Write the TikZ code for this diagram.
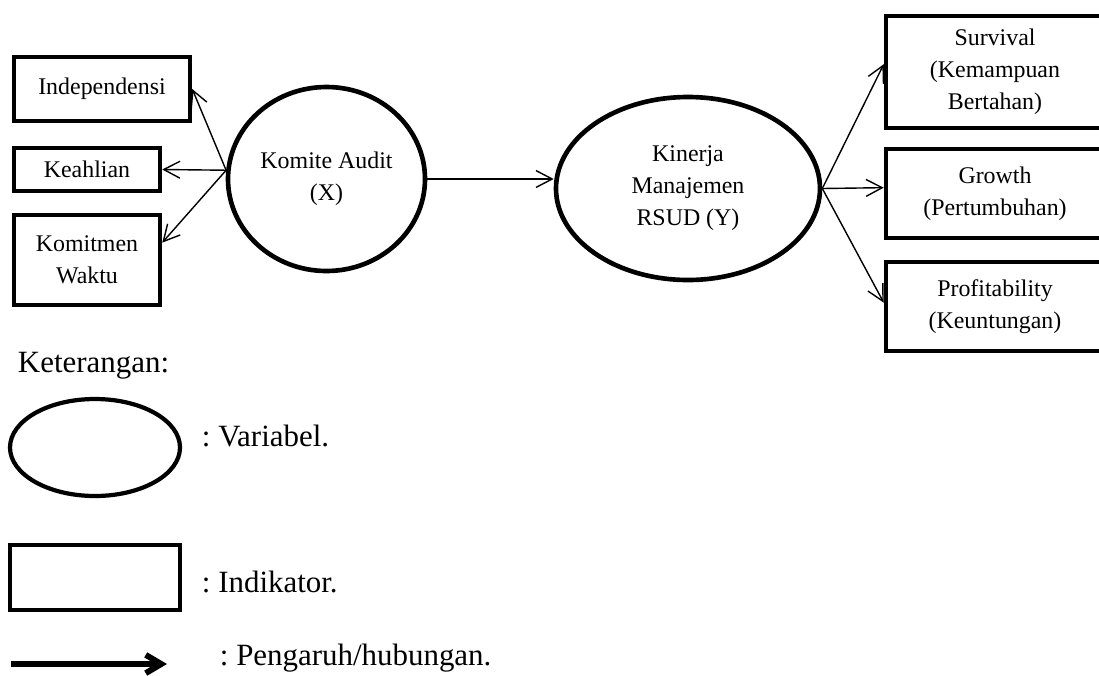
\documentclass[tikz,border=0pt]{standalone}
\usepackage{fontspec}
\setmainfont{Liberation Serif}
\frenchspacing
\usetikzlibrary{shapes.geometric, arrows.meta}

\begin{document}
\begin{tikzpicture}[
        variabel/.style={shape=ellipse, draw=black, line width=3.3pt, inner sep=0pt, align=center, font=\fontsize{17}{22.7}\selectfont},
        indikator/.style={shape=rectangle, draw=black, line width=3.2pt, inner sep=0pt, align=center, font=\fontsize{17}{22.7}\selectfont},
        panah/.style={line width=1pt, -{Straight Barb[length=11.5pt, width=12pt]}},
        ket/.style={anchor=base west, font=\fontsize{22}{26}\selectfont}
    ]
            \useasboundingbox (0, 0) rectangle (27.475, -16.875);

            % indikator komite audit
            \node[indikator, minimum width=4.4cm, minimum height=1.6cm] (ind) at (2.55, -2.225) {Independensi};
            \node[indikator, minimum width=3.65cm, minimum height=1.075cm] (kea) at (2.175, -4.2375) {Keahlian};
            \node[indikator, minimum width=3.65cm, minimum height=2.25cm] (kom) at (2.175, -6.5) {Komitmen\\Waktu};

            % variabel
            \node[variabel, minimum width=4.925cm, minimum height=4.6cm] (X) at (8.1625, -4.475) {Komite Audit\\(X)};
            \node[variabel, minimum width=6.6cm, minimum height=4.575cm] (Y) at (17.2, -4.7125) {Kinerja\\Manajemen\\RSUD (Y)};

            % indikator kinerja
            \node[indikator, minimum width=5.45cm, minimum height=2.8cm] (sur) at (24.875, -1.8) {Survival\\(Kemampuan\\Bertahan)};
            \node[indikator, minimum width=5.45cm, minimum height=2.225cm] (gro) at (24.875, -4.8375) {Growth\\(Pertumbuhan)};
            \node[indikator, minimum width=5.45cm, minimum height=2.225cm] (pro) at (24.875, -7.6625) {Profitability\\(Keuntungan)};

            \path [panah] (X.175) edge (ind.east);
            \path [panah] (X.175) edge (kea.east);
            \path [panah] (X.175) edge (kom.13);

            \path [panah] (X.east) edge (Y.west |- X.east);

            \path [panah] (Y.east) edge (sur.176);
            \path [panah] (Y.east) edge (gro.177);
            \path [panah] (Y.east) edge (pro.178);

            % keterangan
            \node[ket] (judul) at (0.325, -9.3) {Keterangan:};
            \node[shape=ellipse, draw=black, line width=3pt, minimum width=4.25cm, minimum height=2.425cm] (legvar) at (2.375, -11.1875) {};
            \node[ket] (tvar) at (4.925, -11.15) {: Variabel.};
            \node[shape=rectangle, draw=black, line width=3pt, minimum width=4.25cm, minimum height=1.625cm] (legind) at (2.375, -14.4375) {};
            \node[ket] (tind) at (4.925, -14.8) {: Indikator.};
            \coordinate (a1) at (0.275, -16.6);
            \coordinate (a2) at (4.175, -16.6);
            \draw [line width=4.2pt, -{Straight Barb[length=11pt, width=13pt]}] (a1) -- (a2);
            \node[ket] (tpan) at (5.375, -16.625) {: Pengaruh/hubungan.};
        \end{tikzpicture}
\end{document}
